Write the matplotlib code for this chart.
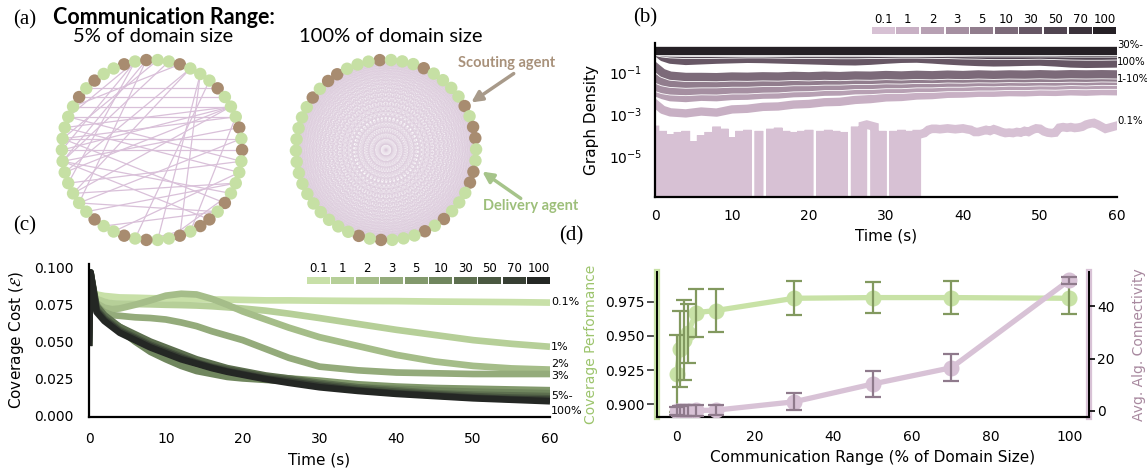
import numpy as np
import matplotlib
matplotlib.use("Agg")
import matplotlib.pyplot as plt
import matplotlib.patheffects as pe
from matplotlib.collections import LineCollection
from matplotlib.patches import FancyArrowPatch
from matplotlib.ticker import NullLocator, FormatStrFormatter

W, H = 1147, 468

# ---------------- data ----------------
ranges = ["0.1", "1", "2", "3", "5", "10", "30", "50", "70", "100"]
range_pct = [0.1, 1, 2, 3, 5, 10, 30, 50, 70, 100]

# (a) agent graphs: S = scouting, G = delivery, listed clockwise from the top
n_agents = 50
types_5 = "SGSGGSGGGSGGGSGSGGGGSGSSGSGGSGSGGSGGGGGGGGGGGSGSGG"
types_100 = "SGGGSGGGGSGSSGGSSGGGSGSGGGSGSGGGGGGGGGGGGGGSGSSGGG"
edges_5 = [(1, 37), (1, 43), (1, 40), (2, 35), (2, 39), (6, 36), (6, 38), (7, 27),
           (7, 25), (8, 29), (11, 42), (11, 44), (11, 40), (11, 38), (11, 36), (12, 43),
           (12, 41), (13, 39), (14, 41), (15, 40), (16, 37), (16, 43), (17, 42), (18, 36),
           (18, 34), (19, 26), (20, 41), (21, 32), (22, 39), (23, 28), (21, 35), (10, 45),
           (9, 46), (4, 39), (3, 41), (5, 44), (14, 35), (17, 31), (12, 24), (19, 39)]

# (b) graph density, log10 values
t_b = [0, 1, 2, 4, 6, 8, 10, 12, 14, 16, 18, 20, 22, 24, 26, 28, 30, 32, 34, 36, 38, 40,
       42, 44, 46, 48, 50, 52, 54, 56, 58, 60]
lg_1 = [-2.50, -2.80, -2.92, -2.97, -2.88, -2.93, -2.78, -2.75, -2.66, -2.64, -2.55, -2.52,
        -2.44, -2.42, -2.33, -2.29, -2.21, -2.19, -2.12, -2.10, -2.04, -2.03, -1.99, -1.99,
        -1.96, -1.97, -1.94, -1.95, -1.92, -1.94, -1.91, -1.92]
lg_2 = [-1.95, -2.10, -2.20, -2.24, -2.18, -2.20, -2.14, -2.13, -2.08, -2.07, -2.01, -1.99,
        -1.94, -1.93, -1.87, -1.86, -1.81, -1.81, -1.76, -1.76, -1.72, -1.72, -1.69, -1.69,
        -1.66, -1.67, -1.64, -1.65, -1.62, -1.63, -1.61, -1.61]
lg_3 = [-1.70, -1.82, -1.88, -1.91, -1.87, -1.88, -1.83, -1.83, -1.79, -1.78, -1.73, -1.72,
        -1.67, -1.67, -1.62, -1.62, -1.58, -1.58, -1.54, -1.54, -1.51, -1.51, -1.48, -1.49,
        -1.46, -1.47, -1.45, -1.46, -1.43, -1.45, -1.42, -1.43]
lg_5 = [-1.30, -1.45, -1.52, -1.56, -1.54, -1.54, -1.51, -1.51, -1.48, -1.48, -1.44, -1.44,
        -1.41, -1.41, -1.38, -1.38, -1.35, -1.36, -1.33, -1.34, -1.31, -1.32, -1.30, -1.31,
        -1.29, -1.30, -1.28, -1.29, -1.27, -1.28, -1.26, -1.27]
lg_10 = [-0.75, -1.05, -1.18, -1.24, -1.24, -1.25, -1.22, -1.23, -1.21, -1.22, -1.19, -1.21,
         -1.18, -1.20, -1.17, -1.18, -1.15, -1.17, -1.14, -1.16, -1.13, -1.15, -1.12, -1.14,
         -1.12, -1.13, -1.11, -1.13, -1.11, -1.12, -1.11, -1.12]
lg_30 = [0.0, -0.30, -0.42, -0.48, -0.45, -0.42, -0.40, -0.38, -0.39, -0.41, -0.43, -0.45,
         -0.47, -0.49, -0.50, -0.47, -0.42, -0.38, -0.37, -0.41, -0.46, -0.50, -0.53, -0.55,
         -0.54, -0.52, -0.51, -0.55, -0.60, -0.62, -0.61, -0.60]
lg_50 = [0.0, -0.08, -0.12, -0.15, -0.15, -0.14, -0.13, -0.12, -0.12, -0.13, -0.14, -0.15,
         -0.15, -0.16, -0.16, -0.15, -0.14, -0.13, -0.13, -0.14, -0.15, -0.17, -0.18, -0.20,
         -0.20, -0.19, -0.18, -0.20, -0.22, -0.23, -0.23, -0.22]
lg_70 = [0.0, -0.03, -0.04, -0.05, -0.05, -0.05, -0.05, -0.05, -0.05, -0.05, -0.06, -0.06,
         -0.06, -0.06, -0.06, -0.06, -0.05, -0.05, -0.05, -0.05, -0.06, -0.06, -0.07, -0.07,
         -0.07, -0.07, -0.07, -0.07, -0.08, -0.08, -0.08, -0.08]
lg_100 = [0.0] * 32

# 0.1 % range, sampled every 0.5 s; None = no edge (density 0)
t_low = np.arange(0, 60.25, 0.5)
lg_01 = [-3.75, None, -3.80, None, -3.95, None, -3.85, None, -3.80, None,
         -4.30, None, -4.00, None, -3.85, None, -3.60, None, -3.70, None,
         -4.10, None, -3.80, None, -3.75, None, None, -3.80, None, None,
         -3.70, None, -3.65, None, -3.80, None, -3.85, None, -3.80, None,
         -3.75, None, None, -3.80, None, -3.75, None, -3.80, None, -3.85,
         None, None, -3.60, None, -3.55, -3.50, -3.55, -3.60, None, -3.80,
         None, None, -3.80, None, -3.75, None, -3.80, None,
         -3.95, -3.95, -3.90, -3.75, -3.70, -3.70, -3.72, -3.70, -3.68, -3.70,
         -3.72, -3.70, -3.68, -3.72, -3.75, -3.85, -3.85, -3.80, -3.75, -3.80,
         -3.72, -3.78, -3.85, -3.90, -3.88, -3.90, -3.85, -3.88, -3.80, -3.85,
         -3.75, -3.68, -3.70, -3.82, -3.88, -3.90, -3.88, -3.65, -3.62, -3.65,
         -3.62, -3.66, -3.64, -3.60, -3.50, -3.45, -3.42, -3.50, -3.60, -3.70,
         -3.65, -3.60, -3.55]

# (c) coverage cost
t_c = [0, 0.2, 1, 2, 3, 4, 6, 8, 10, 12, 14, 16, 18, 20, 23, 26, 30, 35, 40, 45, 50, 55, 60]
cost_01 = [0.084, 0.084, 0.082, 0.081, 0.0805, 0.080, 0.0798, 0.0795, 0.0793, 0.079, 0.0788,
           0.0786, 0.0785, 0.0783, 0.078, 0.078, 0.0778, 0.0776, 0.0775, 0.0772, 0.077,
           0.0768, 0.0765]
cost_1 = [0.084, 0.084, 0.079, 0.077, 0.076, 0.0758, 0.0755, 0.0753, 0.075, 0.0748, 0.0745,
          0.074, 0.0733, 0.0725, 0.071, 0.069, 0.066, 0.062, 0.058, 0.0545, 0.051, 0.0485,
          0.0465]
cost_2 = [0.084, 0.084, 0.076, 0.073, 0.072, 0.0725, 0.075, 0.078, 0.0812, 0.0825, 0.082,
          0.079, 0.075, 0.0705, 0.065, 0.0595, 0.053, 0.047, 0.041, 0.0365, 0.0335, 0.0318,
          0.031]
cost_3 = [0.084, 0.084, 0.074, 0.070, 0.068, 0.0675, 0.0665, 0.066, 0.065, 0.063, 0.0605,
          0.057, 0.054, 0.051, 0.045, 0.039, 0.033, 0.0305, 0.029, 0.0285, 0.028, 0.028, 0.028]
cost_5 = [0.085, 0.085, 0.075, 0.068, 0.063, 0.060, 0.054, 0.047, 0.042, 0.037, 0.0335,
          0.031, 0.029, 0.0275, 0.026, 0.025, 0.0235, 0.021, 0.0195, 0.0185, 0.018, 0.0175,
          0.017]
cost_10 = [0.085, 0.085, 0.074, 0.067, 0.062, 0.058, 0.050, 0.043, 0.038, 0.0335, 0.030,
           0.028, 0.026, 0.025, 0.024, 0.023, 0.021, 0.019, 0.018, 0.0168, 0.016, 0.0155,
           0.015]
cost_30 = [0.047, 0.097, 0.074, 0.068, 0.064, 0.060, 0.055, 0.050, 0.046, 0.042, 0.038,
           0.035, 0.032, 0.030, 0.027, 0.025, 0.022, 0.019, 0.017, 0.015, 0.014, 0.0135, 0.013]
cost_50 = [0.047, 0.097, 0.072, 0.066, 0.062, 0.058, 0.053, 0.048, 0.044, 0.040, 0.036,
           0.033, 0.031, 0.029, 0.026, 0.024, 0.021, 0.018, 0.016, 0.0143, 0.013, 0.012,
           0.0115]
cost_70 = [0.047, 0.097, 0.071, 0.065, 0.061, 0.057, 0.052, 0.047, 0.043, 0.039, 0.0355,
           0.0325, 0.030, 0.028, 0.025, 0.023, 0.020, 0.017, 0.015, 0.0135, 0.012, 0.011,
           0.0105]
cost_100 = [0.047, 0.097, 0.070, 0.064, 0.060, 0.056, 0.051, 0.046, 0.042, 0.038, 0.035,
            0.032, 0.0295, 0.0275, 0.0245, 0.022, 0.019, 0.0165, 0.0145, 0.013, 0.0115,
            0.0105, 0.0095]

# (d) performance vs communication range
cov_perf = [0.9225, 0.9405, 0.947, 0.952, 0.967, 0.9685, 0.9775, 0.978, 0.978, 0.9775]
cov_err = [0.028, 0.028, 0.029, 0.0215, 0.0175, 0.0155, 0.0125, 0.0112, 0.012, 0.0115]
alg_conn = [0.0, 0.05, 0.1, 0.15, 0.2, 0.3, 3.5, 10.3, 16.5, 49.9]
alg_err = [1.5, 2.0, 2.0, 2.0, 2.0, 1.8, 3.2, 5.1, 5.25, 1.3]

# ---------------- styles ----------------
purples = ["#d7c1d4", "#c8b0c4", "#b7a0b3", "#a58fa1", "#917d8d", "#7c6a79", "#675765",
           "#514551", "#3b323b", "#252025"]
greens = ["#c8e0a8", "#b6cf98", "#a5bd89", "#94ab7b", "#82996c", "#70865e", "#5d6f4f",
          "#4a5841", "#373f33", "#242724"]
scout_col = "#a88c70"
deliv_col = "#c6e0a4"

fig = plt.figure(figsize=(W / 100, H / 100), dpi=100)


def box(x0, y0, x1, y1):
    return [x0 / W, 1 - y1 / H, (x1 - x0) / W, (y1 - y0) / H]


def fp(x, y):
    return (x / W, 1 - y / H)


# ---------------- (a) ----------------
def draw_graph(rect, types, edges, start_deg, lw, color, alpha):
    ax = fig.add_axes(rect)
    ang = np.deg2rad(start_deg - 360 / n_agents * np.arange(n_agents))
    xy = np.c_[np.cos(ang), np.sin(ang)]
    segs = [[xy[i], xy[j]] for i, j in edges]
    ax.add_collection(LineCollection(segs, colors=color, linewidths=lw, alpha=alpha, zorder=1))
    cols = [scout_col if c == "S" else deliv_col for c in types]
    ax.scatter(xy[:, 0], xy[:, 1], s=80, c=cols, linewidths=0, zorder=2)
    ax.set_xlim(-1.11, 1.11)
    ax.set_ylim(-1.11, 1.11)
    ax.axis("off")


draw_graph(box(52, 50, 252, 250), types_5, edges_5, 108, 0.9, "#d9c0d9", 1.0)
full_edges = [(i, j) for i in range(n_agents) for j in range(i + 1, n_agents)]
draw_graph(box(286, 50, 486, 250), types_100, full_edges, 94, 0.3, "#dccadc", 0.55)

fig.text(*fp(25, 20), "(a)", family="Liberation Serif", fontsize=15, ha="center", va="center")
fig.text(*fp(53, 17), "Communication Range:", family="Lato", weight="bold", fontsize=15.5,
         ha="left", va="center")
fig.text(*fp(153, 36), "5% of domain size", family="Lato", fontsize=14.5, ha="center",
         va="center")
fig.text(*fp(391, 36), "100% of domain size", family="Lato", fontsize=14.5, ha="center",
         va="center")
fig.text(*fp(507, 63), "Scouting agent", family="Lato", weight="bold", fontsize=10.5,
         color="#a8917a", ha="center", va="center")
fig.text(*fp(531, 206), "Delivery agent", family="Lato", weight="bold", fontsize=10.5,
         color="#9dbf7a", ha="center", va="center")
fig.add_artist(FancyArrowPatch(fp(516, 72), fp(469, 104), transform=fig.transFigure,
                               arrowstyle="-|>", mutation_scale=16, lw=2.5, color="#a89a8a"))
fig.add_artist(FancyArrowPatch(fp(523, 200), fp(480, 170), transform=fig.transFigure,
                               arrowstyle="-|>", mutation_scale=16, lw=2.5, color="#a6c48a"))

for lab, (x, y) in [("(b)", (645, 18)), ("(c)", (25, 226)), ("(d)", (571, 236))]:
    fig.text(*fp(x, y), lab, family="Liberation Serif", fontsize=15, ha="center", va="center")


def style_axes(ax, pad):
    for s in ["top", "right"]:
        ax.spines[s].set_visible(False)
    for s in ["left", "bottom"]:
        ax.spines[s].set_linewidth(1.6)
    ax.tick_params(length=0, pad=pad, labelsize=10)


def color_key(rect, colors, pad):
    k = fig.add_axes(rect)
    k.bar(range(10), [1] * 10, width=0.94, color=colors)
    k.set_xlim(-0.5, 9.5)
    k.set_ylim(0, 1)
    k.xaxis.tick_top()
    k.set_xticks(range(10))
    k.set_xticklabels(ranges)
    k.set_yticks([])
    k.tick_params(length=0, pad=pad, labelsize=8.5)
    for s in k.spines.values():
        s.set_visible(False)


# ---------------- (b) ----------------
ax_b = fig.add_axes(box(655, 43, 1117, 196.7))
low = [0.0 if v is None else 10 ** v for v in lg_01]
ax_b.plot(t_low, low, color=purples[0], lw=6.2, solid_joinstyle="miter")
stroke = [pe.Stroke(linewidth=7.2, foreground="white"), pe.Normal()]
for lg, c in zip([lg_1, lg_2, lg_3, lg_5, lg_10, lg_30, lg_50, lg_70, lg_100], purples[1:]):
    ax_b.plot(t_b, 10 ** np.array(lg), color=c, lw=6.0, path_effects=stroke)
ax_b.set_yscale("log")
ax_b.set_xlim(0, 60)
ax_b.set_ylim(10 ** -6.92, 10 ** 0.37)
ax_b.set_yticks([1e-1, 1e-3, 1e-5])
ax_b.yaxis.set_minor_locator(NullLocator())
ax_b.set_xticks([0, 10, 20, 30, 40, 50, 60])
style_axes(ax_b, 9)
ax_b.set_xlabel("Time (s)", fontsize=11, labelpad=4)
ax_b.set_ylabel("Graph Density", fontsize=11, labelpad=7)
color_key(box(871, 27, 1117, 33.5), purples, 0.5)
for txt, y in [("30%-", 45), ("100%", 62), ("1-10%", 79), ("0.1%", 121)]:
    fig.text(*fp(1117, y), txt, fontsize=7.3, ha="left", va="center")

# ---------------- (c) ----------------
ax_c = fig.add_axes(box(89, 264, 550, 416.7))
for cost, c in zip([cost_01, cost_1, cost_2, cost_3, cost_5, cost_10, cost_30, cost_50,
                    cost_70, cost_100], greens):
    ax_c.plot(t_c, cost, color=c, lw=4.8, solid_capstyle="butt")
ax_c.set_xlim(0, 60)
ax_c.set_ylim(-0.001, 0.1027)
ax_c.set_yticks([0, 0.025, 0.05, 0.075, 0.1])
ax_c.yaxis.set_major_formatter(FormatStrFormatter("%.3f"))
style_axes(ax_c, 11)
ax_c.set_xlabel("Time (s)", fontsize=11, labelpad=5)
ax_c.set_ylabel(r"Coverage Cost ($\mathcal{E}$)", fontsize=11, labelpad=6)
color_key(box(306, 277, 551, 283.5), greens, 1.5)
for txt, y in [("0.1%", 302), ("1%", 347), ("2%", 364), ("3%", 376), ("5%-", 396),
               ("100%", 411)]:
    fig.text(*fp(551, y), txt, fontsize=8, ha="left", va="center")

# ---------------- (d) ----------------
g_mark, g_err, g_lab = "#c8e2a6", "#82995f", "#9cc46c"
p_mark, p_err, p_lab = "#d8c2d6", "#8f7a8c", "#a8899f"

ax_d = fig.add_axes(box(657, 272, 1089, 417))
ax_d.plot(range_pct, cov_perf, "-o", color=g_mark, lw=3.8, ms=10.5, zorder=2)
ax_d.errorbar(range_pct, cov_perf, yerr=cov_err, fmt="none", ecolor=g_err, elinewidth=1.6,
              capsize=5.5, capthick=1.6, zorder=3)
ax_d.set_xlim(-4.9, 105)
ax_d.set_ylim(0.8907, 0.9967)
ax_d.set_yticks([0.9, 0.925, 0.95, 0.975])
ax_d.yaxis.set_major_formatter(FormatStrFormatter("%.3f"))
ax_d.set_xticks([0, 20, 40, 60, 80, 100])
ax_d.spines["top"].set_visible(False)
ax_d.spines["left"].set_color(g_mark)
ax_d.spines["left"].set_linewidth(4.5)
ax_d.spines["right"].set_color(p_mark)
ax_d.spines["right"].set_linewidth(4.5)
ax_d.spines["bottom"].set_linewidth(1.6)
ax_d.tick_params(axis="x", length=0, pad=9.5, labelsize=10)
ax_d.tick_params(axis="y", length=7, width=1.2, pad=2, labelsize=10, color="#333333")
ax_d.set_xlabel("Communication Range (% of Domain Size)", fontsize=11, labelpad=4)
ax_d.set_ylabel("Coverage Performance", fontsize=10, color=g_lab, labelpad=5)

ax_d2 = ax_d.twinx()
ax_d2.plot(range_pct, alg_conn, "-o", color=p_mark, lw=3.8, ms=10.5, zorder=2)
ax_d2.errorbar(range_pct, alg_conn, yerr=alg_err, fmt="none", ecolor=p_err, elinewidth=1.6,
               capsize=5.5, capthick=1.6, zorder=3)
ax_d2.set_ylim(-2.3, 53)
ax_d2.set_yticks([0, 20, 40])
ax_d2.spines["top"].set_visible(False)
ax_d2.spines["bottom"].set_visible(False)
for s in ["left", "right"]:
    ax_d2.spines[s].set_linewidth(1.4)
ax_d2.tick_params(axis="y", length=4.5, width=1.2, pad=1.5, labelsize=10)
ax_d2.set_ylabel("Avg. Alg. Connectivity", fontsize=10, color=p_lab, labelpad=12)

fig.savefig("out.png", dpi=100)
